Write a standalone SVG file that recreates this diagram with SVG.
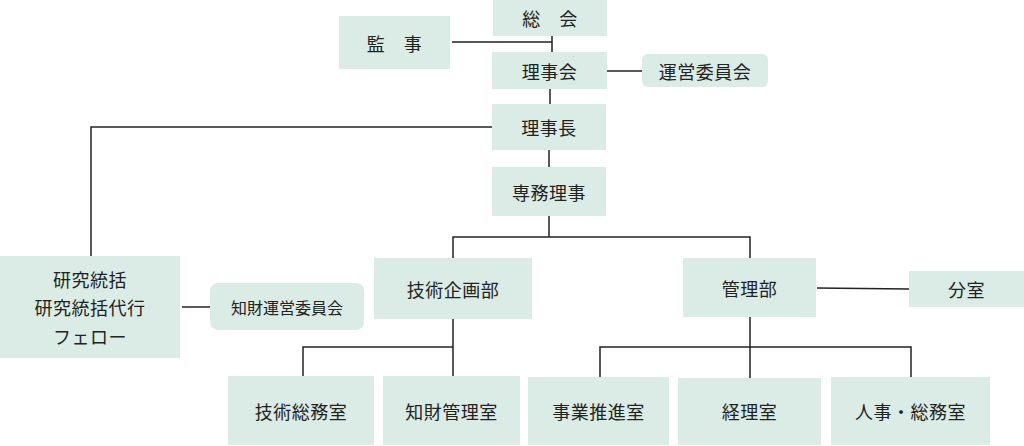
<svg xmlns="http://www.w3.org/2000/svg" width="1024" height="446" viewBox="0 0 1024 446">
<style>
.box{fill:#dbece6}
.t{font-family:"Noto Sans CJK JP","Noto Sans",sans-serif;font-size:18px;fill:#222;text-anchor:middle;dominant-baseline:central;letter-spacing:0.5px}
.s{font-size:16px;letter-spacing:0}
.c{fill:none;stroke:#222;stroke-width:1.5}
</style>
<rect width="1024" height="446" fill="#fff"/>
<g id="connectors">
<path class="c" d="M452 42H552M552 36V52"/>
<path class="c" d="M607 71H642"/>
<path class="c" d="M550 89V104"/>
<path class="c" d="M492 127H91V256"/>
<path class="c" d="M549 150V167"/>
<path class="c" d="M549 216V237M453 258V237H750V258"/>
<path class="c" d="M182 307H210"/>
<path class="c" d="M453 319V376M303 376V347H453"/>
<path class="c" d="M817 288L909 289"/>
<path class="c" d="M750 317V378M600 377V347H911V377"/>
</g>
<g id="n-soukai"><rect class="box" x="493" y="0" width="114" height="36"/><text class="t" x="550" y="18">総　会</text></g>
<g id="n-kanji"><rect class="box" x="339" y="16" width="111" height="53"/><text class="t" x="394.5" y="42.5">監　事</text></g>
<g id="n-rijikai"><rect class="box" x="492" y="52" width="115" height="37"/><text class="t" x="549.5" y="70.5">理事会</text></g>
<g id="n-unei"><rect class="box" x="642" y="54" width="126" height="33" rx="6"/><text class="t" x="705" y="70.5">運営委員会</text></g>
<g id="n-rijicho"><rect class="box" x="492" y="104" width="114" height="46"/><text class="t" x="549" y="127">理事長</text></g>
<g id="n-senmu"><rect class="box" x="492" y="167" width="114" height="49"/><text class="t" x="549" y="191.5">専務理事</text></g>
<g id="n-kenkyu"><rect class="box" x="0" y="256" width="180" height="102"/><text class="t" x="90" y="279">研究統括</text><text class="t" x="90" y="307">研究統括代行</text><text class="t" x="90" y="336">フェロー</text></g>
<g id="n-chizaiunei"><rect class="box" x="210" y="283" width="154" height="47" rx="8"/><text class="t s" x="287" y="306.5">知財運営委員会</text></g>
<g id="n-gijutsukikaku"><rect class="box" x="374" y="258" width="158" height="61"/><text class="t" x="453" y="288.5">技術企画部</text></g>
<g id="n-kanri"><rect class="box" x="683" y="258" width="133" height="59"/><text class="t" x="749.5" y="287.5">管理部</text></g>
<g id="n-bunshitsu"><rect class="box" x="909" y="271" width="115" height="36"/><text class="t" x="966.5" y="289">分室</text></g>
<g id="n-gijutsusoumu"><rect class="box" x="228" y="376" width="146" height="69"/><text class="t" x="301" y="410.5">技術総務室</text></g>
<g id="n-chizaikanri"><rect class="box" x="383" y="376" width="137" height="69"/><text class="t" x="451.5" y="410.5">知財管理室</text></g>
<g id="n-jigyou"><rect class="box" x="528" y="377" width="141" height="68"/><text class="t" x="598.5" y="411">事業推進室</text></g>
<g id="n-keiri"><rect class="box" x="678" y="378" width="143" height="67"/><text class="t" x="749.5" y="411">経理室</text></g>
<g id="n-jinji"><rect class="box" x="831" y="377" width="159" height="68"/><text class="t" x="910.5" y="411">人事・総務室</text></g>
</svg>
